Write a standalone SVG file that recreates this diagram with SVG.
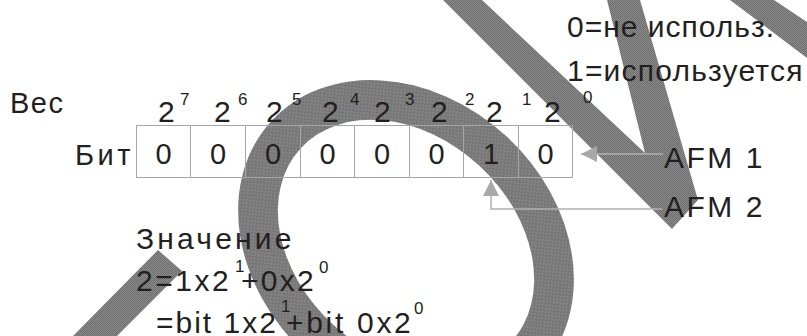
<svg xmlns="http://www.w3.org/2000/svg" width="807" height="336" viewBox="0 0 807 336">
<defs>
<pattern id="chk" width="2" height="2" patternUnits="userSpaceOnUse">
<rect width="2" height="2" fill="#8a8a8a"/>
<rect width="1" height="1" fill="#6e6e6e"/>
<rect x="1" y="1" width="1" height="1" fill="#6e6e6e"/>
</pattern>
<marker id="arr" viewBox="0 0 16 16" refX="16" refY="8" markerWidth="16" markerHeight="16" markerUnits="userSpaceOnUse" orient="auto">
<path d="M0,0 L16,8 L0,16 Z" fill="#a8a8a8"/>
</marker>
<style>
text{font-family:"Liberation Sans",Arial,sans-serif;fill:#231f20}
.m{font-size:29px}
.b{font-size:30px}
.s{font-size:17px}
.cell{fill:none;stroke:#a6a6a6;stroke-width:1}
.con{fill:none;stroke:#b0b0b0;stroke-width:1.5}
.wm{fill:url(#chk)}
</style>
</defs>
<rect width="807" height="336" fill="#ffffff"/>
<g id="watermark">
<polygon class="wm" points="158,250 182,271 117,336 73,336"/>
<g transform="translate(406,245) rotate(42.6)">
<path class="wm" fill-rule="evenodd" d="M183,0 A183,148 0 1,0 -183,0 A183,148 0 1,0 183,0 Z M143,0 A143,108 0 1,0 -143,0 A143,108 0 1,0 143,0 Z"/>
</g>
<polygon class="wm" points="443,0 482,0 645,153 607,0 640,0 698,200 672,229"/>
<polygon class="wm" points="730,0 774,0 807,22 807,58"/>
</g>
<g id="legend">
<text class="b" x="567" y="37" letter-spacing="1">0=не использ.</text>
<text class="b" x="567" y="81" letter-spacing="1.2">1=используется</text>
</g>
<g id="weights">
<text class="m" x="10" y="113" letter-spacing="1.5">Вес</text>
<text class="b" x="158" y="122">2</text><text class="s" x="180" y="105">7</text>
<text class="b" x="214" y="122">2</text><text class="s" x="238" y="105">6</text>
<text class="b" x="266" y="122">2</text><text class="s" x="292" y="105">5</text>
<text class="b" x="322" y="122">2</text><text class="s" x="350" y="105">4</text>
<text class="b" x="374" y="122">2</text><text class="s" x="405" y="105">3</text>
<text class="b" x="431" y="122">2</text><text class="s" x="465" y="105">2</text>
<text class="b" x="486" y="122">2</text><text class="s" x="522" y="105">1</text>
<text class="b" x="544" y="122">2</text><text class="s" x="583" y="103">0</text>
</g>
<g id="bits">
<text class="m" x="75" y="165" letter-spacing="3.5">Бит</text>
<rect class="cell" x="136.5" y="125.5" width="436" height="52"/>
<path class="cell" d="M190.5,125.5V177.5M245.5,125.5V177.5M300.5,125.5V177.5M354.5,125.5V177.5M409.5,125.5V177.5M463.5,125.5V177.5M518.5,125.5V177.5"/>
<g class="m" text-anchor="middle">
<text x="163.5" y="164">0</text>
<text x="218" y="164">0</text>
<text x="273" y="164">0</text>
<text x="327.5" y="164">0</text>
<text x="382" y="164">0</text>
<text x="436.5" y="164">0</text>
<text x="491" y="164">1</text>
<text x="545.5" y="164">0</text>
</g>
</g>
<g id="afm1">
<text class="b" x="664" y="168" letter-spacing="2.5">AFM 1</text>
</g>
<g id="afm2">
<text class="b" x="664" y="217" letter-spacing="2.5">AFM 2</text>
</g>
<g id="value">
<text class="b" x="136" y="249" letter-spacing="3.2">Значение</text>
<text class="b" x="136" y="291" letter-spacing="2.5">2=1x2</text>
<text class="s" x="235" y="272">1</text>
<text class="b" x="241" y="291" letter-spacing="2.3">+0x2</text>
<text class="s" x="319" y="273">0</text>
<text class="b" x="156" y="333" letter-spacing="2">=bit 1x2</text>
<text class="s" x="281" y="312">1</text>
<text class="b" x="286" y="333" letter-spacing="2.7">+bit 0x2</text>
<text class="s" x="414" y="314">0</text>
</g>
<g id="connectors">
<path class="con" d="M663,154 H581" marker-end="url(#arr)"/>
<path class="con" d="M662,209 H491 V180" marker-end="url(#arr)"/>
</g>
</svg>
